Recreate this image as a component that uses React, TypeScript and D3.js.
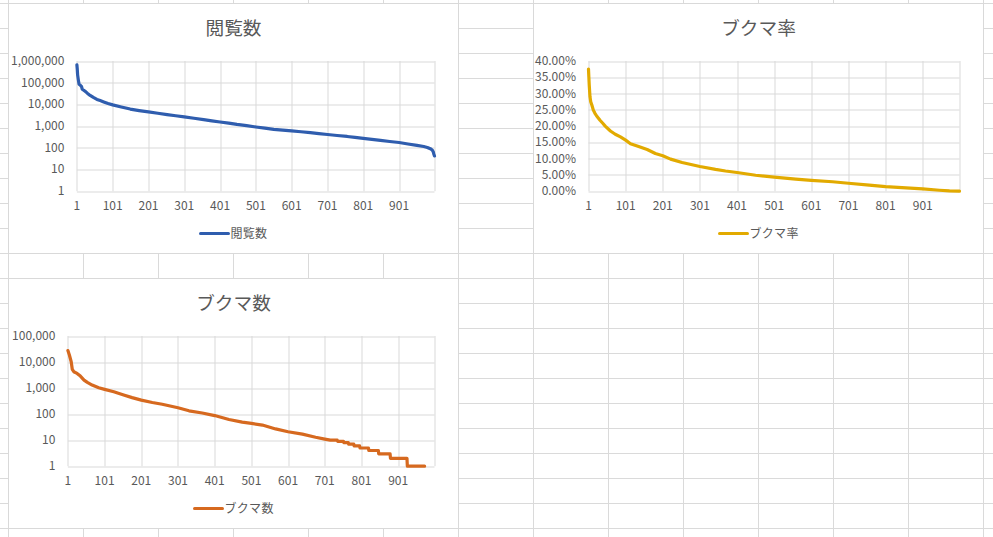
import React from 'react';
import * as d3 from 'd3';

// 横軸（順位）
const categoryCount = 1000;
const xTickLabels = ['1', '101', '201', '301', '401', '501', '601', '701', '801', '901'];

// 閲覧数（順位, 値）
const viewRanks = [
  1, 2, 3, 5, 7, 10, 14, 16, 20, 24, 30, 38, 47, 57, 66, 76, 88, 101, 125, 150, 175, 201, 227, 253, 277, 301,
  328, 355, 378, 401, 425, 448, 475, 501, 526, 551, 576, 601, 627, 653, 677, 701, 728, 756, 778, 801, 825, 849,
  875, 901, 926, 951, 970, 980, 990, 994, 997, 998, 1000,
];
const viewCounts = [
  660000, 420000, 230000, 135000, 85000, 78000, 66000, 50000, 45000, 40000, 33000, 26000, 21000, 17000, 15000,
  13000, 11000, 9500, 7600, 6100, 5200, 4500, 3900, 3400, 3000, 2640, 2300, 2000, 1750, 1550, 1380, 1200, 1050,
  910, 800, 710, 650, 600, 550, 500, 450, 410, 370, 333, 300, 270, 243, 220, 195, 175, 150, 130, 115, 104, 88, 78,
  62, 52, 42,
];

// ブクマ率（順位, 値）
const rateRanks = [
  1, 2, 3, 5, 7, 10, 14, 18, 23, 32, 40, 46, 60, 73, 87, 101, 114, 136, 159, 181, 201, 222, 253, 277, 301, 343,
  370, 401, 451, 501, 559, 601, 658, 701, 757, 801, 856, 901, 946, 973, 1000,
];
const rateValues = [
  0.375, 0.35, 0.326, 0.29, 0.275, 0.265, 0.249, 0.24, 0.231, 0.218, 0.208, 0.2, 0.185, 0.175, 0.167, 0.157,
  0.146, 0.137, 0.128, 0.116, 0.109, 0.0985, 0.088, 0.082, 0.076, 0.067, 0.062, 0.0575, 0.049, 0.043, 0.037,
  0.033, 0.029, 0.0245, 0.0185, 0.014, 0.01, 0.007, 0.003, 0.001, 0,
];

// ブクマ数（順位, 値）
const bookmarkRanks = [
  1, 5, 10, 13, 17, 26, 35, 45, 54, 67, 85, 101, 126, 153, 176, 201, 231, 258, 301, 331, 367, 401, 440, 476, 501,
  531, 567, 601, 640, 676, 701, 716, 735, 736, 752, 753, 765, 766, 780, 781, 796, 797, 820, 821, 847, 848, 879,
  880, 925, 926, 973, 974, 1000,
];
const bookmarkCounts = [
  27500, 18600, 10300, 5200, 4250, 3650, 2880, 2030, 1660, 1310, 1030, 890, 720, 540, 430, 345, 280, 240, 175,
  134, 110, 88, 62, 49, 44, 38, 27, 21, 17, 13, 11, 10, 10, 9, 9, 8, 8, 7, 7, 6, 6, 5, 5, 4, 4, 3, 3, 2, 2, 1, 1,
  0, 0,
];

const viewTicks = [1, 10, 100, 1000, 10000, 100000, 1000000];
const rateTicks = [0, 0.05, 0.1, 0.15, 0.2, 0.25, 0.3, 0.35, 0.4];
const bookmarkTicks = [1, 10, 100, 1000, 10000, 100000];

const FONT = '"Noto Sans CJK JP", "Noto Sans", sans-serif';
const TEXT = '#595959';
const GRID = '#D9D9D9';
const SHEET = '#DADADA';

const W = 993;
const H = 537;
const CHART_W = 450;
const CHART_H = 250;

interface ChartProps {
  x: number;
  y: number;
  title: string;
  color: string;
  ranks: number[];
  values: number[];
  ticks: number[];
  log: boolean;
  format: (v: number) => string;
  plotLeft: number;
}

const Chart: React.FC<ChartProps> = ({ x, y, title, color, ranks, values, ticks, log, format, plotLeft }) => {
  const top = 57.5;
  const bottom = 187.7;
  const right = 426;

  const xScale = d3.scaleLinear().domain([1, categoryCount]).range([plotLeft, right]);
  const yDomain = d3.extent(ticks) as [number, number];
  const yScale = log
    ? d3.scaleLog().domain(yDomain).range([bottom, top])
    : d3.scaleLinear().domain(yDomain).range([bottom, top]);

  const points = ranks.map((r, i) => [r, values[i]] as [number, number]);
  const line = d3
    .line<[number, number]>()
    .defined((d) => !log || d[1] > 0)
    .x((d) => xScale(d[0]))
    .y((d) => yScale(d[1]));

  const xGrid = xTickLabels.map((t) => +t).concat([categoryCount]);
  const legendTextW = title.length * 12;
  const legendX = CHART_W / 2 - (28 + 2 + legendTextW) / 2;

  return (
    <g transform={`translate(${x},${y})`}>
      <rect x={0} y={0} width={CHART_W} height={CHART_H} fill="#fff" stroke={GRID} strokeWidth={1} />
      <text x={CHART_W / 2} y={31.5} textAnchor="middle" fontSize={18.67} fill={TEXT} fontFamily={FONT}>
        {title}
      </text>
      {/* 目盛線 */}
      {ticks.map((t) => (
        <line
          key={'h' + t}
          x1={plotLeft}
          x2={right}
          y1={Math.round(yScale(t)) + 0.5}
          y2={Math.round(yScale(t)) + 0.5}
          stroke={GRID}
          strokeWidth={1}
        />
      ))}
      {xGrid.map((c) => (
        <line
          key={'v' + c}
          x1={Math.round(xScale(c)) + 0.5}
          x2={Math.round(xScale(c)) + 0.5}
          y1={top}
          y2={bottom}
          stroke={GRID}
          strokeWidth={1}
        />
      ))}
      {ticks.map((t) => (
        <text
          key={'yl' + t}
          x={plotLeft - 12.5}
          y={yScale(t)}
          dy="0.33em"
          textAnchor="end"
          fontSize={12}
          fill={TEXT}
          fontFamily={FONT}
        >
          {format(t)}
        </text>
      ))}
      {xTickLabels.map((t) => (
        <text
          key={'xl' + t}
          x={xScale(+t)}
          y={bottom + 19}
          textAnchor="middle"
          fontSize={12}
          fill={TEXT}
          fontFamily={FONT}
        >
          {t}
        </text>
      ))}
      <path
        d={line(points) ?? ''}
        fill="none"
        stroke={color}
        strokeWidth={3.2}
        strokeLinejoin="round"
        strokeLinecap="round"
      />
      {/* 凡例 */}
      <line x1={legendX} x2={legendX + 28} y1={230} y2={230} stroke={color} strokeWidth={3} strokeLinecap="round" />
      <text x={legendX + 30} y={234.5} fontSize={12} fill={TEXT} fontFamily={FONT} letterSpacing={0.3}>
        {title}
      </text>
    </g>
  );
};

export default function App() {
  const cols = d3.range(0, 14).map((i) => 8.5 + 75 * i);
  const rows = d3.range(0, 22).map((i) => 3.5 + 25 * i);
  const fmtCount = d3.format(',');
  const fmtRate = d3.format('.2%');

  return (
    <div style={{ position: 'absolute', left: 0, top: 0 }}>
      <svg width={W} height={H} style={{ display: 'block', background: '#fff' }}>
        {/* シートの枠線 */}
        {cols.map((cx) => (
          <line key={'c' + cx} x1={cx} x2={cx} y1={0} y2={H} stroke={SHEET} strokeWidth={1} />
        ))}
        {rows.map((ry) => (
          <line key={'r' + ry} x1={0} x2={W} y1={ry} y2={ry} stroke={SHEET} strokeWidth={1} />
        ))}
        <Chart
          x={8.5}
          y={3.5}
          title="閲覧数"
          color="#2F5DAE"
          ranks={viewRanks}
          values={viewCounts}
          ticks={viewTicks}
          log={true}
          format={fmtCount}
          plotLeft={68.4}
        />
        <Chart
          x={533.5}
          y={3.5}
          title="ブクマ率"
          color="#E2AA00"
          ranks={rateRanks}
          values={rateValues}
          ticks={rateTicks}
          log={false}
          format={fmtRate}
          plotLeft={55}
        />
        <Chart
          x={8.5}
          y={278.5}
          title="ブクマ数"
          color="#D6691F"
          ranks={bookmarkRanks}
          values={bookmarkCounts}
          ticks={bookmarkTicks}
          log={true}
          format={fmtCount}
          plotLeft={59.4}
        />
      </svg>
    </div>
  );
}
